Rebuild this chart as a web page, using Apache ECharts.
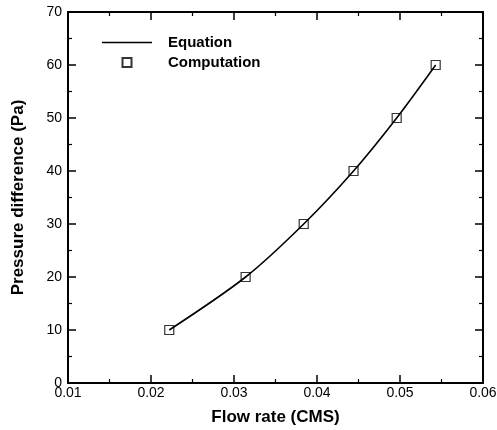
<!DOCTYPE html>
<html>
<head>
<meta charset="utf-8">
<script src="https://cdn.jsdelivr.net/npm/echarts@6/dist/echarts.min.js"></script>
<style>
  html, body { margin: 0; padding: 0; background: #fff; }
  #chart { width: 497px; height: 430px; }
</style>
</head>
<body>
<div id="chart"></div>
<script>
// 流量 vs 压差
const flowRate = [0.0222, 0.0314, 0.0384, 0.0444, 0.0496, 0.0543];
const pressureDiff = [10, 20, 30, 40, 50, 60];
const seriesNames = ['Equation', 'Computation'];

const points = flowRate.map((x, i) => [x, pressureDiff[i]]);
const FONT = 'Liberation Sans, Arial, sans-serif';

function makeAxis(opts) {
    return Object.assign({
        axisLine: { show: true, onZero: false, lineStyle: { color: '#000', width: 2 } },
        axisTick: { show: true, inside: true, length: 8, lineStyle: { color: '#000', width: 1.5 } },
        minorTick: { show: true, splitNumber: 2, length: 4, lineStyle: { color: '#000', width: 1.2 } },
        splitLine: { show: false },
        axisLabel: { show: false }
    }, opts);
}

const chart = echarts.init(document.getElementById('chart'));
chart.setOption({
    animation: false,
    grid: { left: 68, right: 14, top: 12, bottom: 47, containLabel: false, outerBoundsMode: 'none' },
    legend: {
        orient: 'vertical',
        left: 102, top: 35, padding: 0,
        itemWidth: 50, itemHeight: 9, itemGap: 5,
        symbolKeepAspect: true,
        textStyle: { fontFamily: FONT, fontWeight: 'bold', fontSize: 15, color: '#000', padding: [0, 0, 0, 11] },
        data: [
            { name: seriesNames[0], icon: 'path://M0,0L50,0L50,1.6L0,1.6Z' },
            { name: seriesNames[1], icon: 'path://M0,0L10,0L10,10L0,10Z' }
        ]
    },
    xAxis: [
        makeAxis({
            type: 'value', min: 0.01, max: 0.06, interval: 0.01, position: 'bottom',
            name: 'Flow rate (CMS)', nameLocation: 'middle', nameGap: 26,
            nameTextStyle: { fontFamily: FONT, fontWeight: 'bold', fontSize: 17, color: '#000' },
            axisLabel: { show: true, fontFamily: FONT, fontSize: 14, color: '#000', margin: 3,
                formatter: v => v.toFixed(2) }
        }),
        makeAxis({ type: 'value', min: 0.01, max: 0.06, interval: 0.01, position: 'top' })
    ],
    yAxis: [
        makeAxis({
            type: 'value', min: 0, max: 70, interval: 10, position: 'left',
            name: 'Pressure difference (Pa)', nameLocation: 'middle', nameGap: 41,
            nameTextStyle: { fontFamily: FONT, fontWeight: 'bold', fontSize: 17, color: '#000' },
            axisLabel: { show: true, fontFamily: FONT, fontSize: 14, color: '#000', margin: 6 }
        }),
        makeAxis({ type: 'value', min: 0, max: 70, interval: 10, position: 'right' })
    ],
    series: [
        {
            name: seriesNames[0], type: 'line', data: points,
            smooth: 0.3, symbol: 'none',
            lineStyle: { color: '#000', width: 1.6 },
            itemStyle: { color: '#000' }
        },
        {
            name: seriesNames[1], type: 'scatter', data: points,
            symbol: 'rect', symbolSize: 9,
            itemStyle: { color: 'rgba(255,255,255,0)', borderColor: '#000', borderWidth: 1.2 },
            z: 3
        }
    ]
});
</script>
</body>
</html>
